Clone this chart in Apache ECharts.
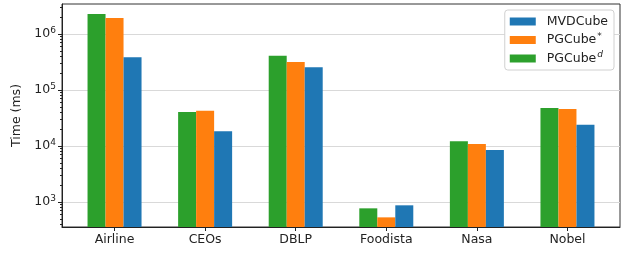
<!DOCTYPE html>
<html>
<head>
<meta charset="utf-8">
<script src="https://cdn.jsdelivr.net/npm/echarts@6/dist/echarts.min.js"></script>
<style>
  html, body { margin: 0; padding: 0; background: #fff; }
  #main { width: 630px; height: 254px; }
</style>
</head>
<body>
<div id="main"></div>
<script>
var categories = ['Airline', 'CEOs', 'DBLP', 'Foodista', 'Nasa', 'Nobel'];
var pgcubeD = [2280000, 40500, 410000, 771, 12100, 47700];
var pgcubeStar = [1930000, 42700, 316000, 532, 10900, 45800];
var mvdcube = [383000, 18300, 254000, 873, 8480, 24000];
var yTicks = [1000, 10000, 100000, 1000000];

// minor ticks of the log axis, 2..9 times each power of ten
var minorTicks = [];
for (var p = 2; p <= 6; p++) {
	for (var m = 2; m <= 9; m++) {
		minorTicks.push(m * Math.pow(10, p));
	}
}

function toPoints(arr) {
	var out = [];
	for (var i = 0; i < arr.length; i++) {
		out.push([i, arr[i]]);
	}
	return out;
}

var font = 'DejaVu Sans';
var fs = 12.5;
var myChart = echarts.init(document.getElementById('main'));

var option = {
	animation: false,
	textStyle: { fontFamily: font },
	grid: { left: 62, right: 10, top: 4, bottom: 27, show: true, borderColor: '#333', borderWidth: 1, backgroundColor: 'transparent' },
	legend: {
		orient: 'vertical',
		right: 16,
		top: 10,
		data: ['MVDCube', 'PGCube*', 'PGCube^d'],
		icon: 'rect',
		itemWidth: 26,
		itemHeight: 8,
		itemGap: 4,
		padding: [5, 6, 5, 5],
		borderColor: '#d0d0d0',
		borderWidth: 1,
		borderRadius: 3,
		backgroundColor: '#fff',
		formatter: function (name) {
			if (name === 'PGCube*') return '{b|PGCube}{s|*}';
			if (name === 'PGCube^d') return '{b|PGCube}{s|d}';
			return '{b|' + name + '}';
		},
		textStyle: {
			fontFamily: font,
			rich: {
				b: { fontFamily: font, fontSize: fs, color: '#222', padding: [0, 0, 0, 6] },
				s: { fontFamily: font, fontSize: 9, color: '#222', fontStyle: 'italic', verticalAlign: 'bottom', padding: [0, 0, 7, 1] }
			}
		}
	},
	xAxis: {
		type: 'value',
		min: -0.58,
		max: 5.58,
		splitLine: { show: false },
		axisLine: { show: true, onZero: false, lineStyle: { color: '#222' } },
		axisTick: { show: true, length: 4, lineStyle: { color: '#222' }, customValues: [0, 1, 2, 3, 4, 5] },
		axisLabel: {
			customValues: [0, 1, 2, 3, 4, 5],
			color: '#222',
			fontSize: fs,
			margin: 6,
			formatter: function (v) { return categories[Math.round(v)]; }
		}
	},
	yAxis: [{
		type: 'log',
		logBase: 10,
		min: 358,
		max: 3430000,
		name: 'Time (ms)',
		nameLocation: 'middle',
		nameGap: 38,
		nameTextStyle: { fontFamily: font, fontSize: fs, color: '#222' },
		axisLine: { show: true, onZero: false, lineStyle: { color: '#222' } },
		axisTick: { show: true, length: 4, lineStyle: { color: '#222' }, customValues: yTicks },
		splitLine: { show: true, lineStyle: { color: '#d9d9d9', width: 1 } },
		axisLabel: {
			customValues: yTicks,
			color: '#222',
			margin: 6,
			formatter: function (v) {
				return '{b|10}{s|' + Math.round(Math.log10(v)) + '}';
			},
			rich: {
				b: { fontFamily: font, fontSize: fs, color: '#222' },
				s: { fontFamily: font, fontSize: 9, color: '#222', verticalAlign: 'bottom', padding: [0, 0, 7, 0] }
			}
		}
	}, {
		type: 'log',
		logBase: 10,
		min: 358,
		max: 3430000,
		position: 'left',
		axisLine: { show: false, onZero: false },
		axisTick: { show: true, length: 2, lineStyle: { color: '#222' }, customValues: minorTicks },
		axisLabel: { show: false },
		splitLine: { show: false }
	}],
	series: [
		{ name: 'PGCube^d', type: 'bar', barWidth: 18, barGap: '0%', itemStyle: { color: '#2ca02c' }, data: toPoints(pgcubeD) },
		{ name: 'PGCube*', type: 'bar', barWidth: 18, barGap: '0%', itemStyle: { color: '#ff7f0e' }, data: toPoints(pgcubeStar) },
		{ name: 'MVDCube', type: 'bar', barWidth: 18, barGap: '0%', itemStyle: { color: '#1f77b4' }, data: toPoints(mvdcube) }
	]
};
myChart.setOption(option);
</script>
</body>
</html>
